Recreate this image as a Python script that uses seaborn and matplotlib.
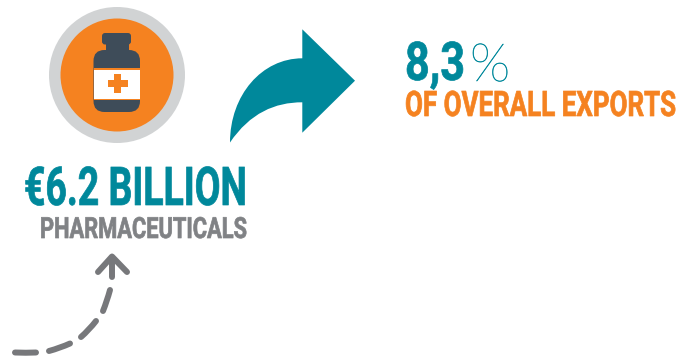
import matplotlib
matplotlib.use("Agg")
import matplotlib.pyplot as plt
from matplotlib.patches import Circle, FancyBboxPatch, PathPatch, Rectangle
from matplotlib.patheffects import AbstractPathEffect
from matplotlib.path import Path
from matplotlib.transforms import Affine2D
import seaborn as sns

sns.set_theme(style="white")

TEAL = "#00889B"
ORANGE = "#F58220"
RING = "#D1D3D4"
SLATE = "#3E4C59"
GREY_TEXT = "#808285"
GREY_DASH = "#77787B"

headline = "€6.2 BILLION"
sector = "PHARMACEUTICALS"
share_number = "8,3"
share_sign = "%"
share_note = "OF OVERALL EXPORTS"

fig = plt.figure(figsize=(6.9, 3.58), dpi=100, facecolor="white")
ax = fig.add_axes([0, 0, 1, 1])
ax.set_xlim(0, 690)
ax.set_ylim(358, 0)
ax.axis("off")


class Heighten(AbstractPathEffect):
    """Stretch glyph outlines upward from the baseline and thicken them a little."""

    def __init__(self, baseline_y, factor, color, stroke):
        super().__init__()
        self.baseline_y, self.factor, self.color, self.stroke = baseline_y, factor, color, stroke

    def draw_path(self, renderer, gc, tpath, affine, rgbFace=None):
        tall = affine + (Affine2D().translate(0, -self.baseline_y)
                         .scale(1, self.factor).translate(0, self.baseline_y))
        gc0 = renderer.new_gc()
        gc0.copy_properties(gc)
        gc0.set_foreground(self.color)
        gc0.set_linewidth(self.stroke)
        renderer.draw_path(gc0, tpath, tall, rgbFace)
        gc0.restore()


def condensed(x0, x1, baseline, label, color, size, stroke=0.5):
    """Tall narrow caption: set to the width x1-x0, then raised to the height of `size`."""
    t = ax.text(x0, baseline, label, color=color, fontsize=size, fontweight="bold",
                family="Roboto", ha="left", va="baseline")
    natural = t.get_window_extent(fig.canvas.get_renderer()).width
    fitted = size * (x1 - x0) / natural
    t.set_fontsize(fitted)
    y_display = ax.transData.transform((x0, baseline))[1]
    t.set_path_effects([Heighten(y_display, size / fitted, color, stroke)])
    return t


def rounded(x, y, w, h, r, color, z):
    ax.add_patch(FancyBboxPatch((x + r, y + r), w - 2 * r, h - 2 * r,
                                boxstyle=f"round,pad={r},rounding_size={r}",
                                fc=color, ec="none", zorder=z))


# Medicine bottle badge
ax.add_patch(Circle((117, 75), 68, fc=RING, ec="none", zorder=1))
ax.add_patch(Circle((117, 75), 56.5, fc=ORANGE, ec="none", zorder=2))
rounded(102, 33, 29, 11.5, 3, SLATE, 3)
ax.add_patch(Rectangle((105.5, 44), 23, 8, fc=SLATE, ec="none", zorder=3))
rounded(93.5, 50, 46.5, 62, 11, SLATE, 3)
ax.add_patch(Rectangle((93.5, 68), 46.5, 32, fc=ORANGE, ec="none", zorder=4))
ax.add_patch(Rectangle((93.5, 69.5), 46.5, 29.5, fc="white", ec="none", zorder=5))
ax.add_patch(Rectangle((108, 80), 19.5, 6.6, fc=ORANGE, ec="none", zorder=6))
ax.add_patch(Rectangle((114.4, 73.5), 6.6, 19.5, fc=ORANGE, ec="none", zorder=6))

# Curved teal arrow
arrow_path = Path(
    [(230, 142.5), (230, 95), (262, 58.3), (302.3, 58.3),
     (302.3, 29.3), (355, 80.7), (302.3, 132.7), (302.3, 102.3),
     (275, 102.3), (250, 113), (230, 142.5), (230, 142.5)],
    [Path.MOVETO, Path.CURVE4, Path.CURVE4, Path.CURVE4,
     Path.LINETO, Path.LINETO, Path.LINETO, Path.LINETO,
     Path.CURVE4, Path.CURVE4, Path.CURVE4, Path.CLOSEPOLY],
)
ax.add_patch(PathPatch(arrow_path, fc=TEAL, ec="none", zorder=3))

# Dashed grey arrow, one stroke per dash
dashes = [
    [(15, 352.5), (26, 353), (36, 352.5)],
    [(49, 351), (60, 348), (70, 343.5)],
    [(81, 337), (89, 330), (96, 321)],
    [(103, 311), (107, 301), (110, 290)],
]
for p0, p1, p2 in dashes:
    ax.add_patch(PathPatch(Path([p0, p1, p2], [Path.MOVETO, Path.CURVE3, Path.CURVE3]),
                           fc="none", ec=GREY_DASH, lw=4.3, capstyle="round", zorder=3))
ax.plot([111.5, 111.5], [277, 258], color=GREY_DASH, lw=4.3, solid_capstyle="round")
ax.plot([98, 112, 127], [272, 256.5, 272], color=GREY_DASH, lw=4.3,
        solid_capstyle="round", solid_joinstyle="round")

# Captions
condensed(24, 247, 205, headline, TEAL, 38.5)
condensed(40, 247, 238, sector, GREY_TEXT, 21)
condensed(405, 465, 80, share_number, TEAL, 38.5)
condensed(405, 676, 116, share_note, ORANGE, 25.3)
sign = ax.text(470, 81, share_sign, color=TEAL, fontsize=38, fontweight="light",
               family=["Lato", "DejaVu Sans"], ha="left", va="baseline")
sign.set_path_effects([Heighten(ax.transData.transform((470, 81))[1], 1.0, TEAL, 0.4)])

fig.savefig("out.png", dpi=100, facecolor="white")
